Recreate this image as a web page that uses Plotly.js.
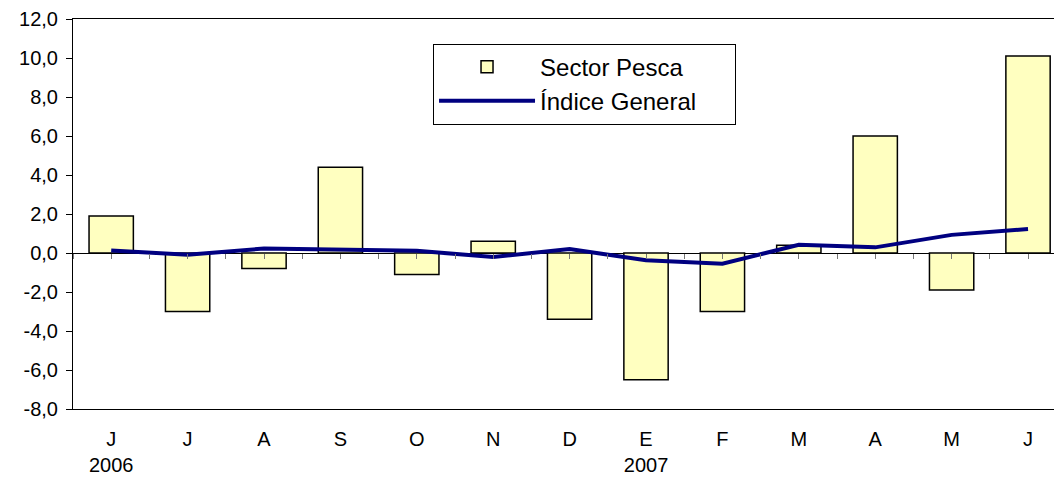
<!DOCTYPE html>
<html>
<head>
<meta charset="utf-8">
<script src="https://cdn.plot.ly/plotly-3.0.1.min.js"></script>
<style>
  body { margin: 0; background: #fff; }
  #chart { width: 1054px; height: 477px; }
</style>
</head>
<body>
<div id="chart"></div>
<script>
var months = ['J', 'J', 'A', 'S', 'O', 'N', 'D', 'E', 'F', 'M', 'A', 'M', 'J'];
var years = ['2006', '', '', '', '', '', '', '2007', '', '', '', '', ''];

var pesca = [1.9, -3.0, -0.8, 4.4, -1.1, 0.6, -3.4, -6.5, -3.0, 0.4, 6.0, -1.9, 10.1];
var general = [0.13, -0.09, 0.23, 0.17, 0.11, -0.2, 0.2, -0.37, -0.55, 0.42, 0.29, 0.93, 1.23];

var yTicks = [12, 10, 8, 6, 4, 2, 0, -2, -4, -6, -8];
var yTickText = yTicks.map(function (v) { return v.toFixed(1).replace('.', ','); });

var idx = months.map(function (m, i) { return i; });
var tickText = months.map(function (m, i) {
  return years[i] ? m + '<br>' + years[i] : m + '<br> ';
});

var trace1 = {
  x: idx,
  y: pesca,
  name: 'Sector Pesca',
  type: 'bar',
  width: 0.58,
  marker: {
    color: '#FFFFC0',
    line: { color: '#000000', width: 1.5 }
  },
  hoverinfo: 'none'
};

var trace2 = {
  x: idx,
  y: general,
  // trailing nbsp only to widen the legend box a bit
  name: 'Índice General\u00a0\u00a0\u00a0\u00a0\u00a0',
  type: 'scatter',
  mode: 'lines',
  line: { color: '#000080', width: 4 },
  hoverinfo: 'none'
};

// second x axis only to draw the tick marks along the zero line
var trace3 = {
  x: idx,
  y: idx.map(function () { return null; }),
  xaxis: 'x2',
  type: 'scatter',
  mode: 'lines',
  showlegend: false,
  hoverinfo: 'none'
};

var data = [trace1, trace2, trace3];

var layout = {
  width: 1054,
  height: 477,
  margin: { l: 73, r: 0, t: 19, b: 68 },
  paper_bgcolor: '#ffffff',
  plot_bgcolor: '#ffffff',
  font: { family: 'Liberation Sans, Arial, sans-serif', size: 18, color: '#000000' },
  showlegend: true,
  legend: {
    x: 0.367,
    y: 0.937,
    xanchor: 'left',
    yanchor: 'top',
    bgcolor: '#ffffff',
    bordercolor: '#000000',
    borderwidth: 1,
    font: { size: 24 },
    itemwidth: 96,
    tracegroupgap: 0
  },
  xaxis: {
    range: [-0.5, 12.34],
    tickvals: idx,
    ticktext: tickText,
    ticks: '',
    ticklabelstandoff: 12,
    showline: true,
    mirror: true,
    linecolor: '#000000',
    linewidth: 1,
    showgrid: false,
    zeroline: false,
    tickfont: { size: 20 }
  },
  xaxis2: {
    overlaying: 'x',
    anchor: 'free',
    position: 0.4,
    range: [-0.5, 12.34],
    dtick: 0.5,
    tick0: 0,
    ticks: 'outside',
    ticklen: 5,
    tickcolor: '#777777',
    showticklabels: false,
    showline: false,
    showgrid: false,
    zeroline: false
  },
  yaxis: {
    range: [-8, 12],
    tickvals: yTicks,
    ticktext: yTickText,
    ticks: 'outside',
    ticklen: 6,
    tickcolor: '#000000',
    ticklabelstandoff: 4,
    showline: true,
    linecolor: '#000000',
    linewidth: 1,
    showgrid: false,
    zeroline: true,
    zerolinecolor: '#000000',
    zerolinewidth: 1,
    tickfont: { size: 20 }
  },
  bargap: 0.42
};

Plotly.newPlot('chart', data, layout, { displayModeBar: false, staticPlot: true });
</script>
</body>
</html>
